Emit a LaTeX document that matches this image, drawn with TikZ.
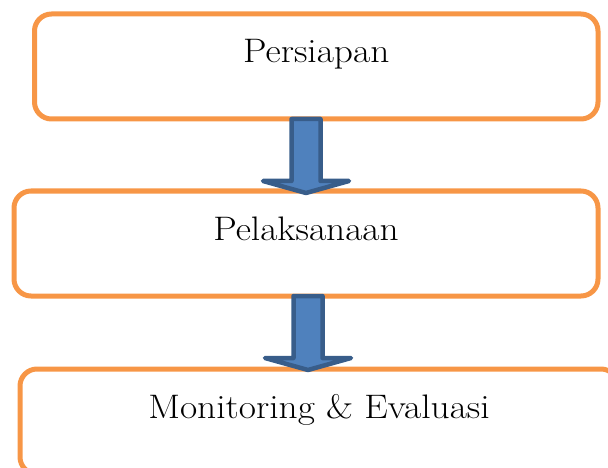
\documentclass[tikz,border=0pt]{standalone}
\usepackage{fontspec}
\setmainfont{Latin Modern Roman}[FakeStretch=1.1]
\usepackage{tikz}
\usetikzlibrary{positioning, calc}
\definecolor{stageorange}{RGB}{247,150,70}
\definecolor{arrowblue}{RGB}{79,129,189}
\definecolor{arrowedge}{RGB}{56,93,138}
\tikzstyle{stage} = [rectangle, rounded corners=17pt, draw=stageorange, line width=5pt, outer sep=0pt, inner ysep=0pt, text height=49pt, text depth=56pt, font=\fontsize{34}{40}\selectfont]
\tikzstyle{blockarrow} = [fill=arrowblue, draw=arrowedge, line width=4.5pt, line join=round]

\begin{document}
\begin{tikzpicture}[x=1pt, y=-1pt]
  \useasboundingbox (0,0) rectangle (608,468);

  \node (persiapan) [stage, minimum width=563.5pt, anchor=north west] at (34.5,14) {Persiapan};
  \node (pelaksanaan) [stage, minimum width=584pt, below=72pt of persiapan.south west, anchor=north west, xshift=-20.5pt] {Pelaksanaan};
  \node (monev) [stage, minimum width=598pt, below=73pt of pelaksanaan.south west, anchor=north west, xshift=6pt] {Monitoring \& Evaluasi};

  \draw [blockarrow, shift={($(persiapan.south -| pelaksanaan.north)$)}] (-14.5,0) -- (-14.5,62) -- (-43,62) -- (0,74) -- (43,62) -- (14.5,62) -- (14.5,0) -- cycle;
  \draw [blockarrow, shift={($(pelaksanaan.south)+(2,0)$)}] (-14.5,0) -- (-14.5,62) -- (-43,62) -- (0,74) -- (43,62) -- (14.5,62) -- (14.5,0) -- cycle;
\end{tikzpicture}
\end{document}
